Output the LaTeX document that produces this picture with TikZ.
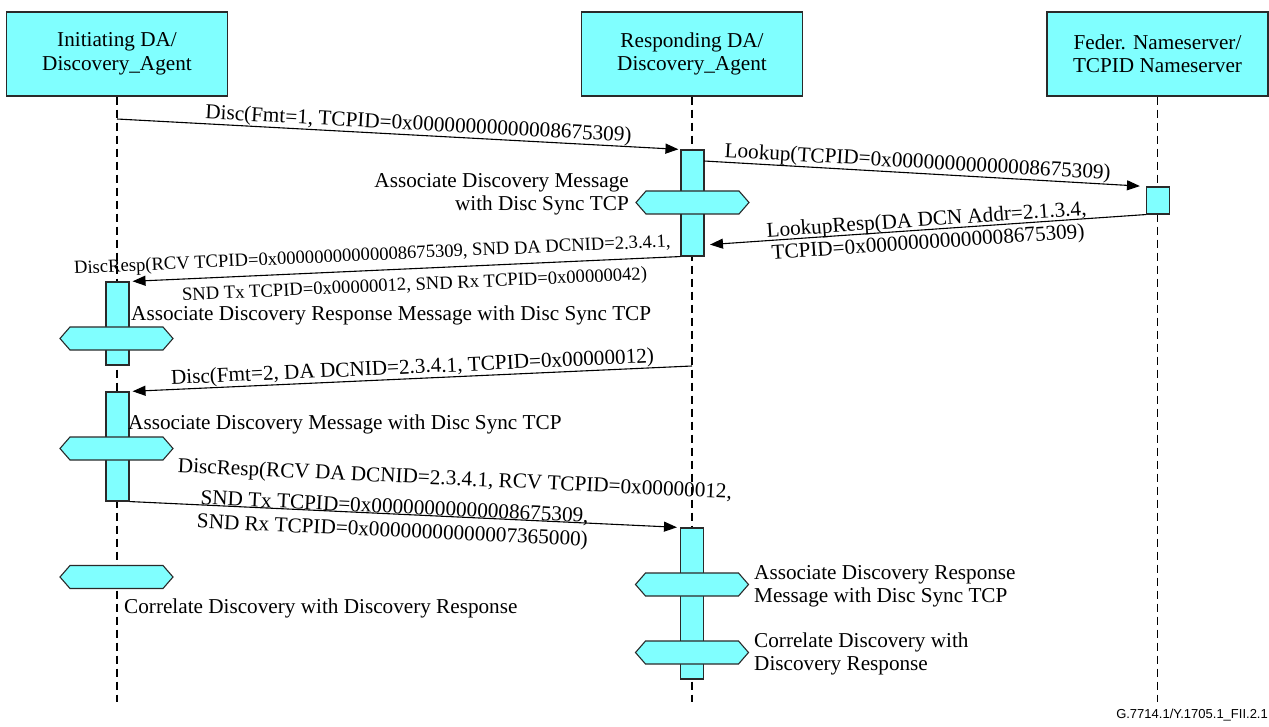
\documentclass[tikz,border=0pt]{standalone}
\usepackage{fontspec}
\setmainfont{Liberation Serif}
\newfontfamily\footfont{Liberation Sans}
\usetikzlibrary{arrows.meta}
\definecolor{cy}{HTML}{80FFFF}
\definecolor{edgec}{HTML}{2A2A2A}
\newcommand\dtxt{\fontsize{21.2}{23.5}\selectfont}
\newcommand\stxt{\fontsize{18.6}{21}\selectfont}
\tikzset{
  actor/.style={draw=edgec, fill=cy, line width=1.1pt, minimum width=221pt, minimum height=84pt, inner sep=0pt, align=center, font=\dtxt},
  life/.style={draw=black, line width=1.6pt, dash pattern=on 8pt off 5pt},
  actbar/.style={draw=edgec, fill=cy, line width=1.1pt, minimum width=23pt, inner sep=0pt},
  msg/.style={draw=black, line width=1.1pt, -{Triangle[length=13pt,width=10pt]}},
  lbl/.style={font=\dtxt, inner sep=0pt, text height=14.5pt, text depth=4pt},
  slbl/.style={font=\stxt, inner sep=0pt, text height=13pt, text depth=4pt},
  note/.style={font=\dtxt, inner sep=0pt},
  hexfill/.style={draw=edgec, fill=cy, line width=1.1pt},
  hexa/.pic={\path[hexfill] (-56.5,0) -- (-46.5,-11.5) -- (46.5,-11.5) -- (56.5,0) -- (46.5,11.5) -- (-46.5,11.5) -- cycle;}
}
\begin{document}
\begin{tikzpicture}[x=1pt,y=-1pt]
\useasboundingbox (0,0) rectangle (1269,727);
% participants
\node[actor] (iA) at (117,54) {Initiating DA/\\Discovery\_Agent};
\node[actor] (rA) at (692,54) {Responding DA/\\Discovery\_Agent};
\node[actor] (nS) at (1157.5,54) {Feder. Nameserver/\\TCPID Nameserver};
\coordinate (iEnd) at (117,702);
\coordinate (rEnd) at (692,702);
\coordinate (nEnd) at (1157.5,702);
\draw[life] (iA.south) -- (iEnd);
\draw[life] (rA.south) -- (rEnd);
\draw[life] (nS.south) -- (nEnd);
% activations
\node[actbar, minimum height=106pt] (a1) at (692.5,203) {};
\node[actbar, minimum height=27pt] (a2) at (1158,200.5) {};
\node[actbar, minimum height=83pt] (a3) at (117.5,323.5) {};
\node[actbar, minimum height=109pt] (a4) at (117.5,446.5) {};
\node[actbar, minimum height=151pt] (a5) at (692,603.5) {};
% processing hexagons
\pic (h1) at (692.5,202.5) {hexa};
\pic (h2) at (116.5,338.5) {hexa};
\pic (h3) at (116.5,448.5) {hexa};
\pic (h4) at (116.5,577) {hexa};
\pic (h5) at (692,584.5) {hexa};
\pic (h6) at (692,652.5) {hexa};
% messages
\coordinate (m1s) at (117,119);
\draw[msg, shorten >=2pt] (m1s) -- (a1.north west)
  node[lbl, sloped, pos=0.534, above=0.5pt] (m1l) {Disc(Fmt=1, TCPID=0x00000000000008675309)};
\coordinate (l1s) at (704,161);
\draw[msg, shorten >=6pt] (l1s) -- (a2.north west)
  node[lbl, sloped, pos=0.482, above=0.5pt] (l1l) {Lookup(TCPID=0x00000000000008675309)};
\coordinate (lrE) at (704,245);
\draw[msg, shorten >=6pt] (a2.south west) -- (lrE)
  node[lbl, sloped, pos=0.495, above=-1pt] (lr1) {LookupResp(DA DCN Addr=2.1.3.4,}
  node[lbl, sloped, pos=0.495, below=4pt] (lr2) {TCPID=0x00000000000008675309)};
\draw[msg, shorten >=3pt] (a1.south west) -- (a3.north east)
  node[slbl, sloped, pos=0.558, above=5.5pt] (dr1) {DiscResp(RCV TCPID=0x00000000000008675309, SND DA DCNID=2.3.4.1,}
  node[slbl, sloped, pos=0.484, below=8pt] (dr2) {SND Tx TCPID=0x00000012, SND Rx TCPID=0x00000042)};
\coordinate (d2s) at (692,366);
\draw[msg, shorten >=3pt] (d2s) -- (a4.north east)
  node[lbl, sloped, pos=0.496, above=0.5pt] (d2l) {Disc(Fmt=2, DA DCNID=2.3.4.1, TCPID=0x00000012)};
\draw[msg, shorten >=3pt] (a4.south east) -- (a5.north west)
  node[lbl, sloped, pos=0.588, above=27pt] (e1) {DiscResp(RCV DA DCNID=2.3.4.1, RCV TCPID=0x00000012,}
  node[lbl, sloped, pos=0.481, above=-4pt] (e2) {SND Tx TCPID=0x00000000000008675309,}
  node[lbl, sloped, pos=0.479, below=8pt] (e3) {SND Rx TCPID=0x00000000000007365000)};
% process notes
\node[note, anchor=east, align=right] (t1) at (629,194.5) {Associate Discovery Message\\with Disc Sync TCP};
\node[lbl, anchor=west] (t2) at (131,315) {Associate Discovery Response Message with Disc Sync TCP};
\node[lbl, anchor=west] (t3) at (128,424) {Associate Discovery Message with Disc Sync TCP};
\node[lbl, anchor=west] (t4) at (124,608) {Correlate Discovery with Discovery Response};
\node[note, anchor=west, align=left] (t5) at (754,586.5) {Associate Discovery Response\\Message with Disc Sync TCP};
\node[note, anchor=west, align=left] (t6) at (754,654) {Correlate Discovery with\\Discovery Response};
\node[anchor=south east, inner sep=0pt, font=\footfont\fontsize{13}{15}\selectfont] (fig) at (1268,721) {G.7714.1/Y.1705.1\_FII.2.1};
\end{tikzpicture}
\end{document}
